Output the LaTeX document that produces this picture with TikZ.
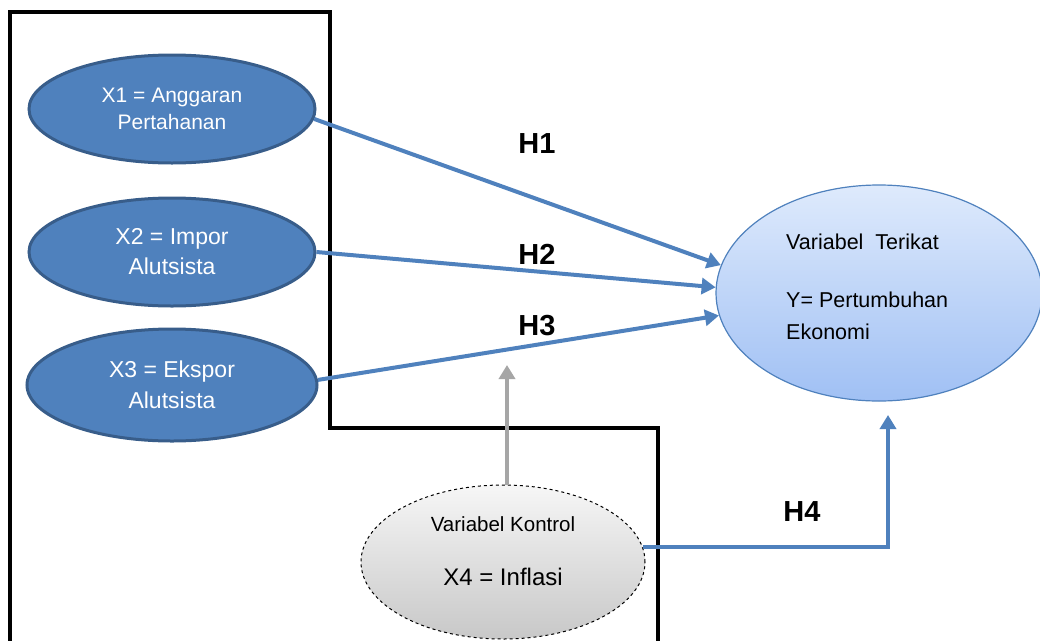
\documentclass[tikz,border=0pt]{standalone}
\usepackage{fontspec}
\setmainfont{Liberation Sans}
\usetikzlibrary{shapes.geometric,arrows.meta,calc}
\definecolor{xblue}{RGB}{79,129,189}
\definecolor{xborder}{RGB}{56,93,138}
\definecolor{ytop}{RGB}{222,234,252}
\definecolor{ybot}{RGB}{160,192,244}
\definecolor{ctop}{RGB}{246,246,246}
\definecolor{cbot}{RGB}{200,200,200}
\definecolor{garrow}{RGB}{166,166,166}
\tikzset{
  xvar/.style={ellipse, fill=xblue, draw=xborder, line width=3pt, text=white,
    minimum width=286pt, minimum height=108pt, inner sep=0pt, align=center},
  yvar/.style={ellipse, top color=ytop, bottom color=ybot, draw=xblue, line width=1.2pt,
    minimum width=326pt, minimum height=216pt, inner sep=0pt},
  cvar/.style={ellipse, top color=ctop, bottom color=cbot, draw=black, dashed, line width=1pt,
    minimum width=284pt, minimum height=154pt, inner sep=0pt},
  frame/.style={line width=4pt, black, line cap=rect},
  link/.style={draw=xblue, line width=4pt, -{Triangle[length=14pt,width=16pt]}},
  glink/.style={draw=garrow, line width=4pt, -{Triangle[length=14pt,width=16pt]}},
  hlab/.style={font=\fontsize{29}{34}\selectfont\bfseries, inner sep=0pt},
}
\begin{document}
\begin{tikzpicture}[x=1pt,y=-1pt]
\useasboundingbox (0,0) rectangle (1040,640);
\draw[frame] (10,642) -- (10,12) -- (330,12) -- (330,428) -- (658,428) -- (658,642);

\node[xvar, font=\fontsize{21}{27}\selectfont] (X1) at (172,109) {X1 = Anggaran\\Pertahanan};
\node[xvar, font=\fontsize{23}{30}\selectfont] (X2) at (172,252) {X2 = Impor\\Alutsista};
\node[xvar, font=\fontsize{23}{31}\selectfont, minimum width=290pt, minimum height=112pt] (X3) at (172,385) {X3 = Ekspor\\Alutsista};

\node[yvar] (Y) at (879,293) {};
\node[anchor=west, align=left, inner sep=0pt, font=\fontsize{21.5}{32}\selectfont] (Ytext) at (786,287)
  {Variabel\ \ Terikat\\[26pt]Y= Pertumbuhan\\Ekonomi};

\node[cvar] (C) at (503,562) {};
\node[inner sep=0pt, align=center] (Ctext) at (503,551)
  {{\fontsize{20.5}{24}\selectfont Variabel Kontrol}\\[35pt]{\fontsize{24}{28}\selectfont X4 = Inflasi}};

\coordinate (gtip) at (507,365);
\coordinate (h4end) at (888,415);

\draw[link] (X1.-4) -- (Y.170);
\draw[link] (X2.east) -- (Y.178);
\draw[link] (X3.2) -- (Y.188);
\draw[glink] (C.north -| gtip) -- (gtip);
\draw[link] (C.6) -| (h4end);

\node[hlab] (H1) at (537,144) {H1};
\node[hlab] (H2) at (537,254) {H2};
\node[hlab] (H3) at (537,326) {H3};
\node[hlab] (H4) at (802,512) {H4};
\end{tikzpicture}
\end{document}
